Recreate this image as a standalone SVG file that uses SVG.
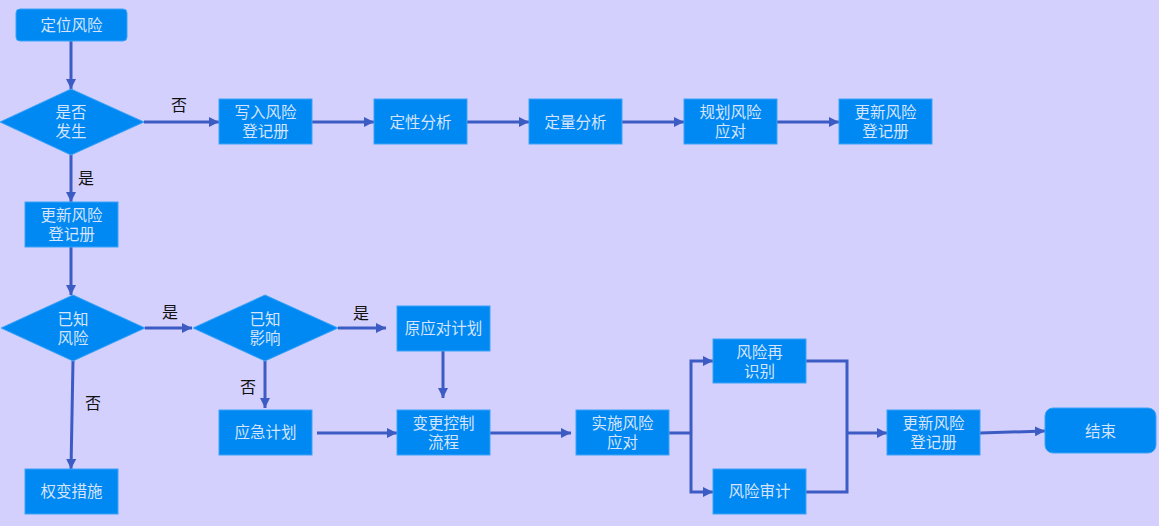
<svg xmlns="http://www.w3.org/2000/svg" width="1159" height="526" viewBox="0 0 1159 526">
<defs>
<marker id="ah" viewBox="0 0 10 10" refX="10" refY="5" markerWidth="10" markerHeight="10" markerUnits="userSpaceOnUse" orient="auto">
<path d="M0,0 L10,5 L0,10 z" fill="#3c5cc4"/>
</marker>
<style>
.n{fill:#0089f2;stroke:#3ca2f6;stroke-width:1}
.t{font-family:"Liberation Sans","Noto Sans CJK SC",sans-serif;font-size:15.5px;fill:#d6e4ff;text-anchor:middle}
.l{font-family:"Liberation Sans","Noto Sans CJK SC",sans-serif;font-size:16px;fill:#111;text-anchor:middle}
.c{fill:none;stroke:#3c5cc4;stroke-width:3}
.a{marker-end:url(#ah)}
</style>
</defs>
<rect width="1159" height="526" fill="#d4d0fe"/>
<g id="connectors">
<path class="c a" d="M71,41 V89"/>
<path class="c a" d="M144,122 H219"/>
<path class="c a" d="M312,122 H374"/>
<path class="c a" d="M467,122 H529"/>
<path class="c a" d="M622,122 H684"/>
<path class="c a" d="M777,122 H839"/>
<path class="c a" d="M71,155 V202"/>
<path class="c a" d="M71,247 V295"/>
<path class="c a" d="M145,328 H192"/>
<path class="c a" d="M338,328 H386"/>
<path class="c a" d="M443,351 V398"/>
<path class="c a" d="M265,361 V408"/>
<path class="c a" d="M73,361 L71,469"/>
<path class="c a" d="M317,433 H397"/>
<path class="c a" d="M490,433 H571"/>
<path class="c" d="M669,433 H691"/>
<path class="c a" d="M691,433 V361 H713"/>
<path class="c a" d="M691,433 V492 H713"/>
<path class="c" d="M806,361 H847 V492 H806"/>
<path class="c a" d="M847,433 H887"/>
<path class="c a" d="M980,433 L1045,431"/>
<text class="l" x="179" y="111">否</text>
<text class="l" x="86" y="184">是</text>
<text class="l" x="170" y="318">是</text>
<text class="l" x="361" y="319">是</text>
<text class="l" x="248" y="393">否</text>
<text class="l" x="93" y="409">否</text>
</g>
<g id="n1"><rect class="n" x="16" y="9" width="111" height="32" rx="4"/><text class="t" x="71.5" y="31">定位风险</text></g>
<g id="n2"><path class="n" d="M0,122 L71,89 L144,122 L71,155 z"/><text class="t" x="71" y="118">是否</text><text class="t" x="71" y="137">发生</text></g>
<g id="n3"><rect class="n" x="219" y="99" width="93" height="45"/><text class="t" x="265.5" y="118">写入风险</text><text class="t" x="265.5" y="137">登记册</text></g>
<g id="n4"><rect class="n" x="374" y="99" width="93" height="45"/><text class="t" x="420.5" y="128">定性分析</text></g>
<g id="n5"><rect class="n" x="529" y="99" width="93" height="45"/><text class="t" x="575.5" y="128">定量分析</text></g>
<g id="n6"><rect class="n" x="684" y="99" width="93" height="45"/><text class="t" x="730.5" y="118">规划风险</text><text class="t" x="730.5" y="137">应对</text></g>
<g id="n7"><rect class="n" x="839" y="99" width="93" height="45"/><text class="t" x="885.5" y="118">更新风险</text><text class="t" x="885.5" y="137">登记册</text></g>
<g id="n8"><rect class="n" x="25" y="202" width="93" height="45"/><text class="t" x="71.5" y="221">更新风险</text><text class="t" x="71.5" y="240">登记册</text></g>
<g id="n9"><path class="n" d="M1,328 L73,295 L145,328 L73,361 z"/><text class="t" x="73" y="325">已知</text><text class="t" x="73" y="344">风险</text></g>
<g id="n10"><path class="n" d="M193,328 L265,295 L338,328 L265,361 z"/><text class="t" x="265" y="325">已知</text><text class="t" x="265" y="344">影响</text></g>
<g id="n11"><rect class="n" x="397" y="306" width="93" height="45"/><text class="t" x="443.5" y="334">原应对计划</text></g>
<g id="n12"><rect class="n" x="219" y="410" width="93" height="45"/><text class="t" x="265.5" y="438">应急计划</text></g>
<g id="n13"><rect class="n" x="397" y="410" width="93" height="45"/><text class="t" x="443.5" y="429">变更控制</text><text class="t" x="443.5" y="448">流程</text></g>
<g id="n14"><rect class="n" x="576" y="410" width="93" height="45"/><text class="t" x="622.5" y="429">实施风险</text><text class="t" x="622.5" y="448">应对</text></g>
<g id="n15"><rect class="n" x="713" y="339" width="93" height="44"/><text class="t" x="759.5" y="358">风险再</text><text class="t" x="759.5" y="377">识别</text></g>
<g id="n16"><rect class="n" x="713" y="469" width="93" height="45"/><text class="t" x="759.5" y="497">风险审计</text></g>
<g id="n17"><rect class="n" x="887" y="410" width="93" height="45"/><text class="t" x="933.5" y="429">更新风险</text><text class="t" x="933.5" y="448">登记册</text></g>
<g id="n18"><rect class="n" x="1045" y="408" width="111" height="45" rx="8"/><text class="t" x="1100.5" y="437">结束</text></g>
<g id="n19"><rect class="n" x="25" y="469" width="93" height="45"/><text class="t" x="71.5" y="497">权变措施</text></g>
</svg>
